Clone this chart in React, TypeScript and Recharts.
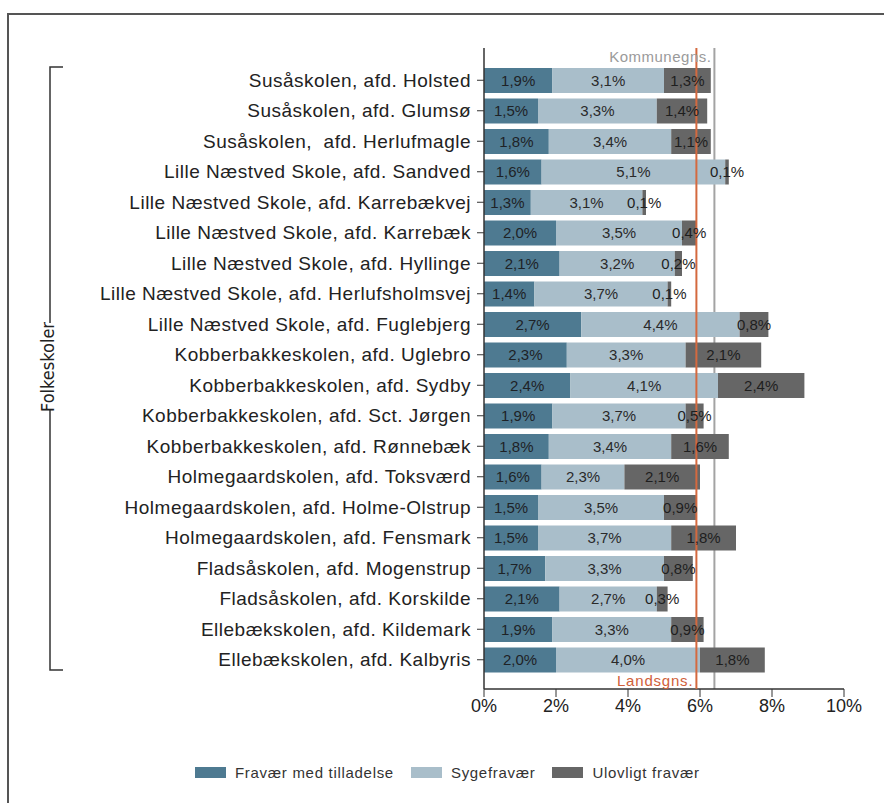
import React from 'react';
import { BarChart, Bar, XAxis, YAxis, ReferenceLine, LabelList, Legend } from 'recharts';

const FONT = "'Liberation Sans', Arial, sans-serif";

const schools = [
  'Susåskolen, afd. Holsted',
  'Susåskolen, afd. Glumsø',
  'Susåskolen,\u00a0 afd. Herlufmagle',
  'Lille Næstved Skole, afd. Sandved',
  'Lille Næstved Skole, afd. Karrebækvej',
  'Lille Næstved Skole, afd. Karrebæk',
  'Lille Næstved Skole, afd. Hyllinge',
  'Lille Næstved Skole, afd. Herlufsholmsvej',
  'Lille Næstved Skole, afd. Fuglebjerg',
  'Kobberbakkeskolen, afd. Uglebro',
  'Kobberbakkeskolen, afd. Sydby',
  'Kobberbakkeskolen, afd. Sct. Jørgen',
  'Kobberbakkeskolen, afd. Rønnebæk',
  'Holmegaardskolen, afd. Toksværd',
  'Holmegaardskolen, afd. Holme-Olstrup',
  'Holmegaardskolen, afd. Fensmark',
  'Fladsåskolen, afd. Mogenstrup',
  'Fladsåskolen, afd. Korskilde',
  'Ellebækskolen, afd. Kildemark',
  'Ellebækskolen, afd. Kalbyris',
];

const medTilladelse = [1.9, 1.5, 1.8, 1.6, 1.3, 2.0, 2.1, 1.4, 2.7, 2.3, 2.4, 1.9, 1.8, 1.6, 1.5, 1.5, 1.7, 2.1, 1.9, 2.0];
const sygefravaer = [3.1, 3.3, 3.4, 5.1, 3.1, 3.5, 3.2, 3.7, 4.4, 3.3, 4.1, 3.7, 3.4, 2.3, 3.5, 3.7, 3.3, 2.7, 3.3, 4.0];
const ulovligt = [1.3, 1.4, 1.1, 0.1, 0.1, 0.4, 0.2, 0.1, 0.8, 2.1, 2.4, 0.5, 1.6, 2.1, 0.9, 1.8, 0.8, 0.3, 0.9, 1.8];

const seriesNames = ['Fravær med tilladelse', 'Sygefravær', 'Ulovligt fravær'];
const seriesColors = ['#4E7A91', '#A9BECA', '#666666'];

const xTicks = [0, 2, 4, 6, 8, 10];
const landsgns = 5.9;
const kommunegns = 6.4;

const data = schools.map((name, i) => ({
  name,
  tilladelse: medTilladelse[i],
  syge: sygefravaer[i],
  ulovligt: ulovligt[i],
}));

const fmt = (v: any) => `${Number(v).toFixed(1).replace('.', ',')}%`;

const renderLegend = (props: any) => (
  <div style={{ display: 'flex', alignItems: 'center', fontFamily: FONT, fontSize: 15, color: '#333', letterSpacing: 0.7 }}>
    {(props.payload || []).map((p: any, i: number) => (
      <div key={i} style={{ display: 'flex', alignItems: 'center', marginRight: 17 }}>
        <span style={{ display: 'inline-block', width: 31, height: 11, background: p.color, marginRight: 9 }} />
        <span>{p.value}</span>
      </div>
    ))}
  </div>
);

const App: React.FC = () => {
  return (
    <div style={{ position: 'absolute', left: 0, top: 0, width: 884, height: 803, overflow: 'hidden', background: '#fff' }}>
      <div style={{ position: 'absolute', left: 7, top: 13, width: 900, height: 900, border: '2px solid #555', boxSizing: 'border-box' }} />
      <div style={{ position: 'absolute', left: 0, top: 0 }}>
        <BarChart
          width={884}
          height={803}
          data={data}
          layout="vertical"
          margin={{ top: 48, right: 40, bottom: 74, left: 4 }}
          barSize={25}
        >
          <XAxis
            type="number"
            domain={[0, 10]}
            ticks={xTicks}
            interval={0}
            tickFormatter={(v) => `${v}%`}
            axisLine={{ stroke: '#333', strokeWidth: 1.5 }}
            tickLine={{ stroke: '#333' }}
            tickSize={8}
            height={40}
            tick={{ fontSize: 18, fill: '#222', fontFamily: FONT }}
          />
          <YAxis
            type="category"
            dataKey="name"
            width={480}
            interval={0}
            padding={{ top: 17, bottom: 14 }}
            axisLine={{ stroke: '#333', strokeWidth: 1.5 }}
            tickLine={{ stroke: '#333' }}
            tickSize={7}
            tickMargin={6}
            tick={{ fontSize: 19, fill: '#222', fontFamily: FONT, letterSpacing: 0.5 }}
          />
          <ReferenceLine
            x={kommunegns}
            stroke="#A3A3A3"
            strokeWidth={2}
            zIndex={-50}
            label={{ value: 'Kommunegns.', position: 'insideTopRight', offset: 3, fill: '#9A9A9A', fontSize: 15, fontFamily: FONT, letterSpacing: 0.5 }}
          />
          <Bar dataKey="tilladelse" name={seriesNames[0]} stackId="a" fill={seriesColors[0]} isAnimationActive={false}>
            <LabelList dataKey="tilladelse" position="center" formatter={fmt} fontSize={15} fill="#1E2226" fontFamily={FONT} />
          </Bar>
          <Bar dataKey="syge" name={seriesNames[1]} stackId="a" fill={seriesColors[1]} isAnimationActive={false}>
            <LabelList dataKey="syge" position="center" formatter={fmt} fontSize={15} fill="#2A2A2A" fontFamily={FONT} />
          </Bar>
          <Bar dataKey="ulovligt" name={seriesNames[2]} stackId="a" fill={seriesColors[2]} isAnimationActive={false}>
            <LabelList dataKey="ulovligt" position="center" formatter={fmt} fontSize={15} fill="#1E1E1E" fontFamily={FONT} />
          </Bar>
          <ReferenceLine
            x={landsgns}
            stroke="#D4693F"
            strokeWidth={2}
            zIndex={1000}
            label={{ value: 'Landsgns.', position: 'insideBottomRight', offset: 3, fill: '#D0603A', fontSize: 15, fontFamily: FONT, letterSpacing: 0.8 }}
          />
          <Legend
            verticalAlign="middle"
            align="center"
            content={renderLegend}
            wrapperStyle={{ position: 'absolute', left: 195, top: 764, width: 'auto', height: 'auto' }}
          />
        </BarChart>
      </div>
      <svg width={884} height={803} style={{ position: 'absolute', left: 0, top: 0, pointerEvents: 'none' }}>
        <path d="M63,67 H50 V323 M50,410 V670 H63" fill="none" stroke="#333" strokeWidth={1.5} />
        <text
          x={0}
          y={0}
          transform="translate(47,367) rotate(-90)"
          textAnchor="middle"
          dominantBaseline="central"
          fontSize={18}
          fill="#222"
          fontFamily="'Liberation Sans Narrow', 'DejaVu Sans Condensed', sans-serif"
        >
          Folkeskoler
        </text>
      </svg>
    </div>
  );
};

export default App;
